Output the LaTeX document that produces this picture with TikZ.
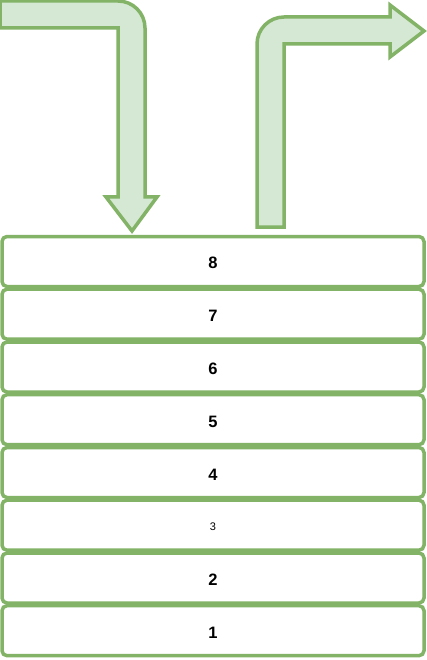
\documentclass[tikz,border=0pt]{standalone}
\usepackage{fontspec}
\setmainfont{Liberation Sans}
\definecolor{leafline}{HTML}{82B366}
\definecolor{leaffill}{HTML}{D5E8D4}

\begin{document}
\begin{tikzpicture}[x=1pt,y=-1pt,
   layer/.style={draw=leafline,line width=3.5pt,rounded corners=5pt,fill=white,
      minimum width=422pt,minimum height=50pt,inner sep=0pt,text height=15pt,
      font=\fontsize{16.5}{18}\selectfont\bfseries},
   flowarrow/.style={draw=leafline,fill=leaffill,line width=3.5pt,line join=miter}]
   \useasboundingbox (0,0) rectangle (427,660);
   \draw [flowarrow] (0,1)--(118,1) arc [start angle=270,end angle=360,radius=27]
      --(145,197)--(157,197)--(132,231)--(106,197)--(118,197)--(118,28)--(0,28)--cycle;
   \draw [flowarrow] (257,227)--(257,44) arc [start angle=180,end angle=270,radius=27]
      --(390,17)--(390,5)--(424,31)--(390,57)--(390,44)--(284,44)--(284,227)--cycle;
   \node [layer] (l8) at (213,261.5) {8};
   \node [layer] (l7) at (213,314.2) {7};
   \node [layer] (l6) at (213,367.0) {6};
   \node [layer] (l5) at (213,419.7) {5};
   \node [layer] (l4) at (213,472.5) {4};
   \node [layer,text height=11pt,font=\fontsize{11}{12}\selectfont] (l3) at (213,525.2) {3};
   \node [layer] (l2) at (213,578.0) {2};
   \node [layer] (l1) at (213,630.7) {1};
 \end{tikzpicture}
\end{document}
